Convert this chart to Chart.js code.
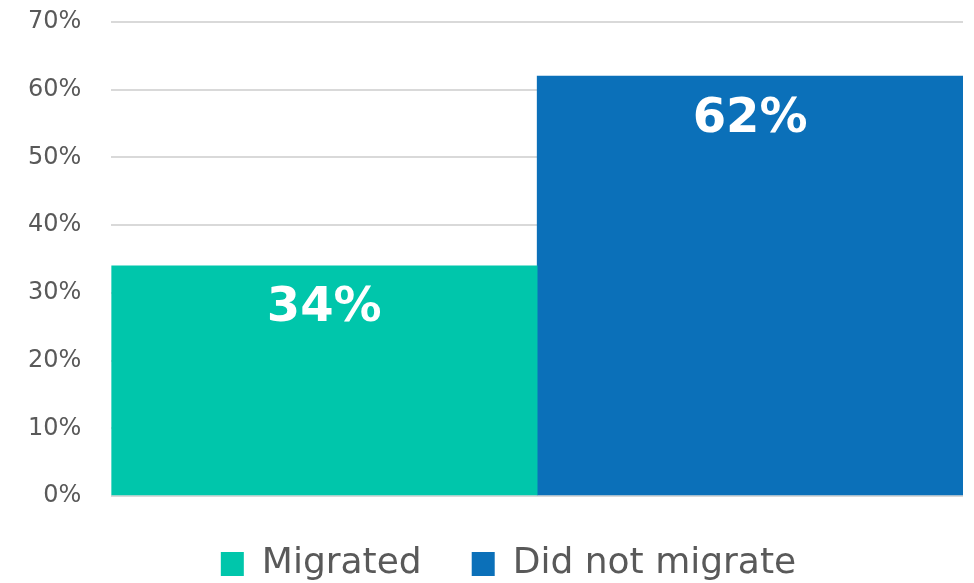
<!DOCTYPE html>
<html>
<head>
<meta charset="utf-8">
<script src="https://cdn.jsdelivr.net/npm/chart.js@4.4.1/dist/chart.umd.min.js"></script>
<style>
  html, body { margin: 0; padding: 0; background: #fff; }
  #wrap { width: 974px; height: 583px; position: relative; }
</style>
</head>
<body>
<div id="wrap"><canvas id="chart"></canvas></div>
<script>
// data
const categories = ['']
const seriesNames = ['Migrated', 'Did not migrate']
const migrated = [34]
const didNotMigrate = [62]
const yTicks = [0, 10, 20, 30, 40, 50, 60, 70]

const colors = ['#00C6AB', '#0B70B9']
const textGrey = '#595959'

// white value labels inside the top of each bar
const barLabels = {
    id: 'barLabels',
    afterDatasetsDraw(chart) {
        let ctx = chart.ctx
        ctx.save()
        ctx.fillStyle = '#fff'
        ctx.font = 'bold 48px "DejaVu Sans"'
        ctx.textAlign = 'center'
        ctx.textBaseline = 'middle'
        chart.data.datasets.forEach((ds, i) => {
            chart.getDatasetMeta(i).data.forEach((bar, j) => {
                ctx.fillText(ds.data[j] + '%', bar.x, bar.y + 43)
            })
        })
        ctx.restore()
    }
}

// legend in the original sits a bit right of the canvas centre
const legendShift = {
    id: 'legendShift',
    afterLayout(chart) {
        let lg = chart.legend
        if (!lg) return
        lg.left += 28
        lg.right += 28
    }
}

new Chart(document.getElementById('chart'), {
    type: 'bar',
    data: {
        labels: categories,
        datasets: [
            { label: seriesNames[0], data: migrated, backgroundColor: colors[0] },
            { label: seriesNames[1], data: didNotMigrate, backgroundColor: colors[1] }
        ]
    },
    options: {
        responsive: true,
        maintainAspectRatio: false,
        animation: false,
        layout: { padding: { top: 22, right: 11, left: -2, bottom: -9 } },
        datasets: { bar: { barPercentage: 1, categoryPercentage: 1, borderWidth: 0 } },
        scales: {
            x: { display: false },
            y: {
                min: yTicks[0],
                max: yTicks[yTicks.length - 1],
                afterBuildTicks: axis => { axis.ticks = yTicks.map(v => ({ value: v })) },
                // tick padding would otherwise push the plot top down
                afterFit: axis => { axis.paddingTop = 0 },
                border: { display: false },
                grid: { color: '#d9d9d9', lineWidth: 2, drawTicks: false },
                ticks: {
                    padding: 30,
                    color: textGrey,
                    font: { family: '"DejaVu Sans"', size: 24 },
                    callback: v => v + '%'
                }
            }
        },
        plugins: {
            legend: {
                position: 'bottom',
                labels: {
                    boxWidth: 23,
                    boxHeight: 24,
                    padding: 50,
                    color: textGrey,
                    font: { family: '"DejaVu Sans"', size: 36 }
                }
            },
            tooltip: { enabled: false }
        }
    },
    plugins: [barLabels, legendShift]
})
</script>
</body>
</html>
